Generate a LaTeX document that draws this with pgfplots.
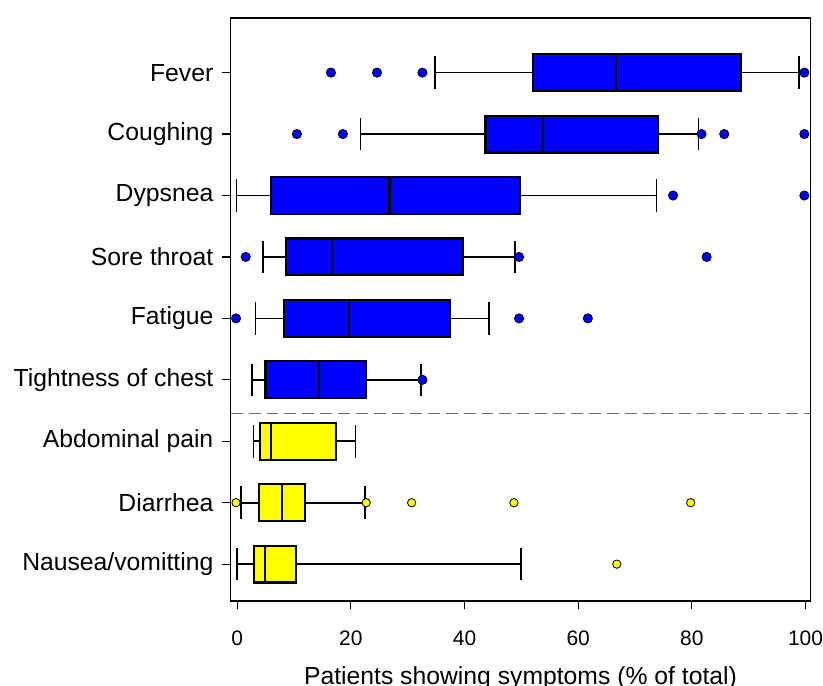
\documentclass[border=0pt]{standalone}
\usepackage{fontspec}
\setmainfont{Liberation Sans}
\usepackage{pgfplots}
\pgfplotsset{compat=1.18}
\usepgfplotslibrary{statistics}
\definecolor{bxblue}{RGB}{0,0,255}
\definecolor{bxyellow}{RGB}{255,255,0}
\definecolor{dashgray}{RGB}{110,110,110}
\begin{document}
\begin{tikzpicture}[font=\fontsize{17.8bp}{21bp}\selectfont]
\begin{axis}[
  name=ax,
  scale only axis,
  width=417.3bp, height=419.8bp,
  xmin=-1.14, xmax=100.84,
  ymin=0.4, ymax=9.89,
  xtick={0,20,40,60,80,100},
  ytick={1,2,3,4,5,6,7,8,9},
  yticklabels={Nausea/vomitting,Diarrhea,Abdominal pain,Tightness of chest,Fatigue,Sore throat,Dypsnea,Coughing,Fever},
  tick align=outside,
  xtick pos=bottom, ytick pos=left,
  major tick length=6bp,
  tick style={black, line width=0.9bp},
  axis line style={line width=1.1bp},
  /pgf/number format/assume math mode=true,
  xticklabel style={font=\fontsize{15.1bp}{18bp}\selectfont, yshift=-12bp},
  yticklabel style={xshift=-3bp},
  xlabel={Patients showing symptoms (\% of total)},
  xlabel style={yshift=-8.2bp},
  clip=false,
  boxplot/draw direction=x,
  boxplot/box extend=0.6,
  boxplot/whisker extend=0.53,
  boxplot/every box/.style={draw=black, line width=1.6bp},
  boxplot/every whisker/.style={draw=black, line width=1.2bp},
  boxplot/every median/.style={draw=black, line width=1.5bp},
]
% blue boxes
\addplot[boxplot prepared={draw position=9, lower whisker=34.8, lower quartile=52.0, median=66.7, upper quartile=88.6, upper whisker=98.9}, draw=black, fill=bxblue] coordinates {};
\addplot[boxplot prepared={draw position=8, lower whisker=21.7, lower quartile=43.7, median=53.8, upper quartile=74.1, upper whisker=81.2}, draw=black, fill=bxblue] coordinates {};
\addplot[boxplot prepared={draw position=7, lower whisker=-0.1, lower quartile=5.9, median=26.8, upper quartile=49.8, upper whisker=73.8}, draw=black, fill=bxblue] coordinates {};
\addplot[boxplot prepared={draw position=6, lower whisker=4.6, lower quartile=8.6, median=16.7, upper quartile=39.8, upper whisker=48.9}, draw=black, fill=bxblue] coordinates {};
\addplot[boxplot prepared={draw position=5, lower whisker=3.2, lower quartile=8.2, median=19.7, upper quartile=37.5, upper whisker=44.3}, draw=black, fill=bxblue] coordinates {};
\addplot[boxplot prepared={draw position=4, lower whisker=2.6, lower quartile=5.0, median=14.4, upper quartile=22.7, upper whisker=32.4}, draw=black, fill=bxblue] coordinates {};
% yellow boxes
\addplot[boxplot prepared={draw position=3, lower whisker=2.9, lower quartile=4.0, median=5.9, upper quartile=17.4, upper whisker=20.8}, draw=black, fill=bxyellow] coordinates {};
\addplot[boxplot prepared={draw position=2, lower whisker=0.7, lower quartile=3.9, median=7.9, upper quartile=11.9, upper whisker=22.5}, draw=black, fill=bxyellow] coordinates {};
\addplot[boxplot prepared={draw position=1, lower whisker=0.0, lower quartile=2.9, median=4.9, upper quartile=10.4, upper whisker=49.9}, draw=black, fill=bxyellow] coordinates {};
% separator
\addplot[dashgray, line width=1bp, dash pattern=on 8.6bp off 4.3bp] coordinates {(-1.14,3.45) (100.84,3.45)};
% outliers blue
\addplot[only marks, mark=*, mark size=3.3bp, mark options={fill=bxblue, draw=black, line width=0.6bp}] coordinates {
  (16.5,9) (24.6,9) (32.6,9) (99.8,9)
  (10.5,8) (18.6,8) (81.7,8) (85.7,8) (99.8,8)
  (76.7,7) (99.8,7)
  (1.5,6) (49.6,6) (82.6,6)
  (-0.2,5) (49.6,5) (61.7,5)
  (32.6,4)
};
% outliers yellow
\addplot[only marks, mark=*, mark size=3bp, mark options={fill=bxyellow, draw=black, line width=0.6bp}] coordinates {
  (-0.2,2) (22.7,2) (30.7,2) (48.7,2) (79.8,2)
  (66.8,1)
};
\coordinate (fsw) at (rel axis cs:0,0);
\end{axis}
\pgfresetboundingbox
\path ([shift={(-166.1bp,-60.48bp)}]fsw) rectangle ([shift={(426.46bp,432.72bp)}]fsw);
\end{tikzpicture}
\end{document}
